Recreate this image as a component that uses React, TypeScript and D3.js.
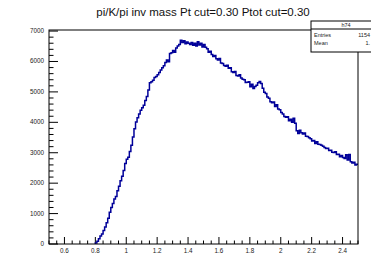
import React from 'react';
import * as d3 from 'd3';

const title = 'pi/K/pi inv mass Pt cut=0.30  Ptot cut=0.30';
const binLow = 0.8;
const binWidth = 0.01;
const counts = [
  30, 90, 170, 260, 330, 440, 560, 700, 850, 1040,
  1200, 1330, 1480, 1560, 1750, 1900, 2080, 2230, 2420, 2650,
  2790, 2850, 3040, 3250, 3520, 3790, 4010, 4150, 4270, 4400,
  4480, 4560, 4720, 4850, 5060, 5300, 5330, 5380, 5470, 5510,
  5560, 5640, 5720, 5790, 5860, 5970, 6050, 5990, 6260, 6290,
  6360, 6300, 6440, 6510, 6560, 6700, 6620, 6680, 6580, 6640,
  6600, 6560, 6620, 6530, 6600, 6510, 6650, 6540, 6600, 6480,
  6560, 6470, 6420, 6300, 6340, 6230, 6160, 6200, 6090, 6050,
  6100, 5950, 5930, 5870, 5840, 5880, 5780, 5790, 5660, 5640,
  5670, 5540, 5520, 5560, 5460, 5420, 5400, 5310, 5320, 5330,
  5170, 5250, 5110, 5180, 5220, 5300, 5340, 5280, 5120, 4990,
  4950, 4830, 4790, 4680, 4640, 4670, 4520, 4580, 4440, 4410,
  4320, 4270, 4190, 4170, 4180, 4050, 4100, 4000, 4130, 3970,
  3720, 3630, 3740, 3660, 3620, 3650, 3540, 3530, 3490, 3460,
  3390, 3400, 3300, 3360, 3280, 3270, 3250, 3210, 3170, 3140,
  3150, 3070, 3080, 3020, 3010, 3030, 2940, 2950, 2870, 2910,
  2840, 2810, 2930, 2760, 2940, 2700, 2660, 2690, 2600, 2620,
];
const xTicks = [0.6, 0.8, 1, 1.2, 1.4, 1.6, 1.8, 2, 2.2, 2.4];
const yTicks = [0, 1000, 2000, 3000, 4000, 5000, 6000, 7000];
const statsName = 'h74';
const statsLabels = ['Entries', 'Mean'];
const statsValues = ['1154', '1.'];

export default function App() {
  const W = 371, H = 263;
  const L = 49, R = 358, T = 30, B = 244;
  const x = d3.scaleLinear().domain([0.5, 2.5]).range([L, R]);
  const y = d3.scaleLinear().domain([0, 7035]).range([B, T]);

  let d = `M${x(binLow)},${y(0)}`;
  counts.forEach((c, i) => {
    const lo = binLow + i * binWidth;
    const hi = lo + binWidth;
    d += `L${x(lo)},${y(c)}L${x(hi)},${y(c)}`;
  });

  const xMinor = d3.range(0, 41).map(i => 0.5 + i * 0.05);
  const yMinor = d3.range(0, 36).map(i => i * 200);
  const font = 'Liberation Sans, Arial, Helvetica, sans-serif';

  return (
    <svg width={W} height={H} style={{ position: 'absolute', left: 0, top: 0, background: '#fff' }}>
      <rect x={0} y={0} width={W} height={H} fill="#fff" />
      <text x={203} y={16} textAnchor="middle" fontFamily={font} fontSize={11.5} fill="#111">{title}</text>
      <g stroke="#000" strokeWidth={1}>
        {xMinor.map((v, i) => {
          const r = Math.round(v * 100) % 20;
          const isMajor = r === 0;
          return <line key={'xm' + i} x1={x(v)} x2={x(v)} y1={B} y2={B - (isMajor ? 7 : 3.5)} />;
        })}
        {yMinor.map((v, i) => (
          <line key={'ym' + i} x1={L} x2={L + (v % 1000 === 0 ? 9 : 4.5)} y1={y(v)} y2={y(v)} />
        ))}
      </g>
      <path d={d} fill="none" stroke="#000099" strokeWidth={1.5} strokeLinejoin="miter" />
      <rect x={L} y={T} width={R - L} height={B - T} fill="none" stroke="#000" strokeWidth={1} />
      {yTicks.map(v => (
        <text key={'yl' + v} x={44} y={y(v) + 2} textAnchor="end" fontFamily={font} fontSize={6.3} fill="#222">{v}</text>
      ))}
      {xTicks.map(v => (
        <text key={'xl' + v} x={x(v)} y={253} textAnchor="middle" fontFamily={font} fontSize={6.3} fill="#222">{v}</text>
      ))}
      <g>
        <rect x={311} y={21} width={70} height={31} fill="#fff" stroke="#000" strokeWidth={1} />
        <line x1={311} x2={371} y1={29} y2={29} stroke="#000" strokeWidth={1} />
        <text x={346} y={27} textAnchor="middle" fontFamily={font} fontSize={5.5} fill="#222">{statsName}</text>
        {statsLabels.map((s, i) => (
          <text key={s} x={314} y={37 + i * 7.5} fontFamily={font} fontSize={5.5} fill="#222">{s}</text>
        ))}
        {statsValues.map((s, i) => (
          <text key={'sv' + i} x={370} y={37 + i * 7.5} textAnchor="end" fontFamily={font} fontSize={5.5} fill="#222">{s}</text>
        ))}
      </g>
    </svg>
  );
}
